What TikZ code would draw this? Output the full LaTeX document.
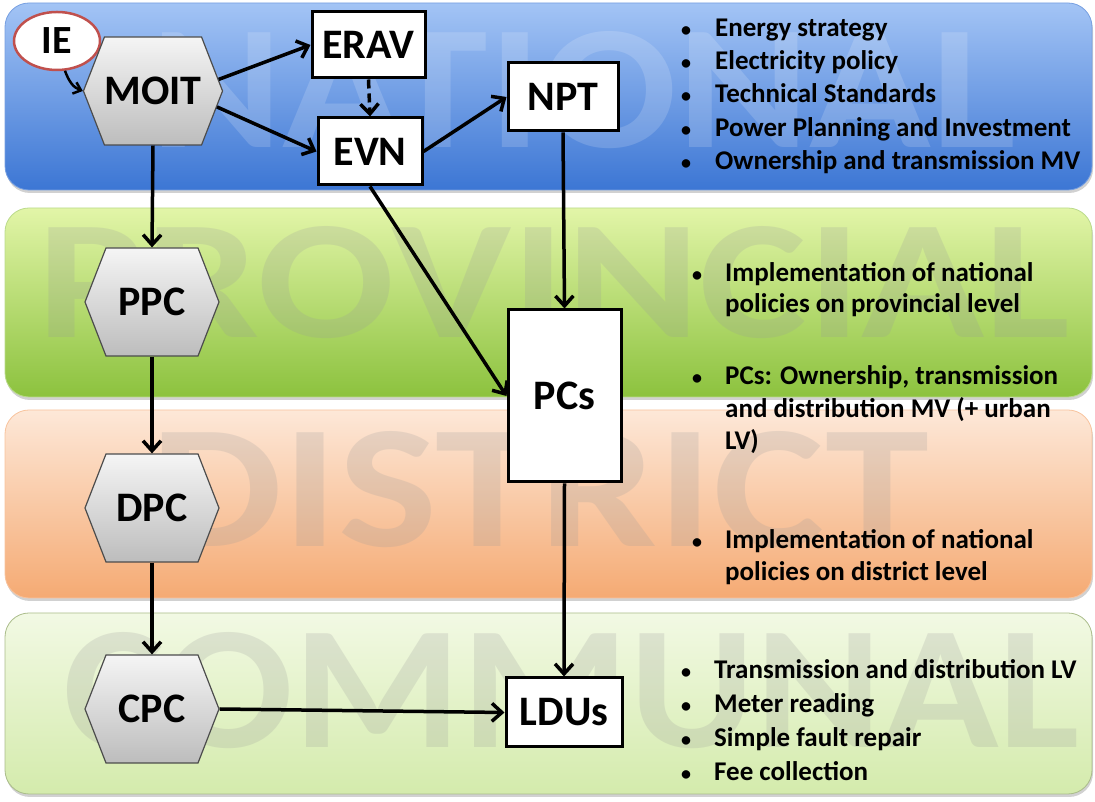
\documentclass[tikz,border=0pt]{standalone}
\usepackage{fontspec}
\setmainfont{Carlito}
\usetikzlibrary{arrows.meta,shapes.geometric,shapes.symbols,shadows}
\definecolor{blueT}{RGB}{163,196,245}
\definecolor{blueB}{RGB}{60,118,212}
\definecolor{greenT}{RGB}{226,245,168}
\definecolor{greenB}{RGB}{140,194,62}
\definecolor{orangeT}{RGB}{253,232,216}
\definecolor{orangeB}{RGB}{245,170,115}
\definecolor{commT}{RGB}{242,249,228}
\definecolor{commB}{RGB}{212,235,172}
\definecolor{iered}{RGB}{192,80,77}
\begin{document}
\begin{tikzpicture}[x=1pt,y=1pt,
  band/.style={rounded corners=24pt, line width=0.8pt,
    drop shadow={shadow xshift=1pt, shadow yshift=-3pt, opacity=0.3, fill=black!60}},
  box/.style={draw=black, line width=3pt, fill=white, inner sep=0pt,
    font=\fontsize{42}{42}\selectfont\bfseries},
  hexa/.style={shape=signal, signal to=east and west, signal pointer angle=137.5,
    draw=black!70, line width=1.2pt, top color=black!4, bottom color=black!26,
    minimum width=134pt, minimum height=108pt, inner sep=0pt,
    font=\fontsize{42}{42}\selectfont\bfseries},
  arr/.style={line width=3.5pt, -{Straight Barb[length=10pt,width=18pt]}},
  wm/.style={anchor=base west, inner sep=0pt, font=\bfseries},
  btxt/.style={anchor=base west, inner sep=0pt, font=\fontsize{27}{27}\selectfont\bfseries},
  bul/.style={anchor=base, inner sep=0pt, font=\fontsize{20}{20}\selectfont\bfseries}
]
\useasboundingbox (0,0) rectangle (1095,802);
% bands
\path[band, draw=blueB!70!white, top color=blueT, bottom color=blueB] (5,612) rectangle (1092,799);
\path[band, draw=greenB!60!white, top color=greenT, bottom color=greenB] (5,405) rectangle (1092,594);
\path[band, draw=orangeB!70!white, top color=orangeT, bottom color=orangeB] (5,204) rectangle (1092,392);
\path[band, draw=commB!80!black, top color=commT, bottom color=commB] (5,8) rectangle (1092,189);
% watermarks
\node[wm, text=white, text opacity=0.16] (wmN) at (150,654) {\resizebox{865pt}{116pt}{NATIONAL}};
\node[wm, text=black!40, text opacity=0.22] (wmP) at (37,464) {\resizebox{1031pt}{111pt}{PROVINCIAL}};
\node[wm, text=black!40, text opacity=0.22] (wmD) at (150,255) {\resizebox{779pt}{115pt}{DISTRICT}};
\node[wm, text=black!40, text opacity=0.22] (wmC) at (63,54) {\resizebox{1016pt}{115pt}{COMMUNAL}};
% nodes
\node[ellipse, draw=iered, line width=2.5pt, fill=white, minimum width=86pt, minimum height=58pt,
  inner sep=0pt, font=\fontsize{40}{40}\selectfont\bfseries] (ie) at (57,761) {IE};
\node[hexa] (moit) at (153,711) {MOIT};
\node[hexa] (ppc) at (152,500) {PPC};
\node[hexa] (dpc) at (152,294) {DPC};
\node[hexa] (cpc) at (152,93) {CPC};
\node[box, minimum width=113pt, minimum height=66pt] (erav) at (368.5,757) {ERAV};
\node[box, minimum width=104pt, minimum height=67pt] (evn) at (370,650.5) {EVN};
\node[box, minimum width=110pt, minimum height=68pt] (npt) at (563,705) {NPT};
\node[box, minimum width=113pt, minimum height=172pt] (pcs) at (564.5,406) {PCs};
\node[box, minimum width=116pt, minimum height=69pt] (ldus) at (564,89.5) {LDUs};
% connectors
\draw[line width=2.5pt, -{Straight Barb[length=7pt,width=12pt]}] (ie.-75) to[out=-70,in=160] (moit.west);
\draw[arr] (moit.10) -- (erav.west);
\draw[arr] (moit.-14) -- (evn.west);
\draw[arr, dashed, dash pattern=on 9pt off 5pt] (erav.south) -- (evn.north);
\draw[arr] (evn.east) -- (npt.west);
\draw[arr] (evn.south) -- (pcs.west);
\draw[arr] (npt.south) -- (pcs.north);
\draw[arr] (moit.south) -- (ppc.north);
\draw[arr] (ppc.south) -- (dpc.north);
\draw[arr] (dpc.south) -- (cpc.north);
\draw[arr] (pcs.south) -- (ldus.north);
\draw[arr] (cpc.east) -- (ldus.west);
% national bullets
\node[bul] (nb1) at (686,765) {•}; \node[btxt] (nt1) at (715,765) {Energy strategy};
\node[bul] (nb2) at (686,732) {•}; \node[btxt] (nt2) at (715,732) {Electricity policy};
\node[bul] (nb3) at (686,699) {•}; \node[btxt] (nt3) at (715,699) {Technical Standards};
\node[bul] (nb4) at (686,665) {•}; \node[btxt] (nt4) at (715,665) {Power Planning and Investment};
\node[bul] (nb5) at (686,632) {•}; \node[btxt] (nt5) at (715,632) {Ownership and transmission MV};
% provincial
\node[bul] (pb1) at (697,520) {•}; \node[btxt] (pt1) at (725,520) {Implementation of national};
\node[btxt] (pt2) at (725,489) {policies on provincial level};
\node[bul] (pb2) at (697,417) {•}; \node[btxt] (pt3) at (725,417) {PCs: Ownership, transmission};
\node[btxt] (pt4) at (725,384) {and distribution MV (+ urban};
\node[btxt] (pt5) at (725,352) {LV)};
% district
\node[bul] (db1) at (697,253) {•}; \node[btxt] (dt1) at (725,253) {Implementation of national};
\node[btxt] (dt2) at (725,221) {policies on district level};
% communal
\node[bul] (cb1) at (686,123) {•}; \node[btxt] (ct1) at (714,123) {Transmission and distribution LV};
\node[bul] (cb2) at (686,89) {•}; \node[btxt] (ct2) at (714,89) {Meter reading};
\node[bul] (cb3) at (686,55) {•}; \node[btxt] (ct3) at (714,55) {Simple fault repair};
\node[bul] (cb4) at (686,21) {•}; \node[btxt] (ct4) at (714,21) {Fee collection};
\end{tikzpicture}
\end{document}
